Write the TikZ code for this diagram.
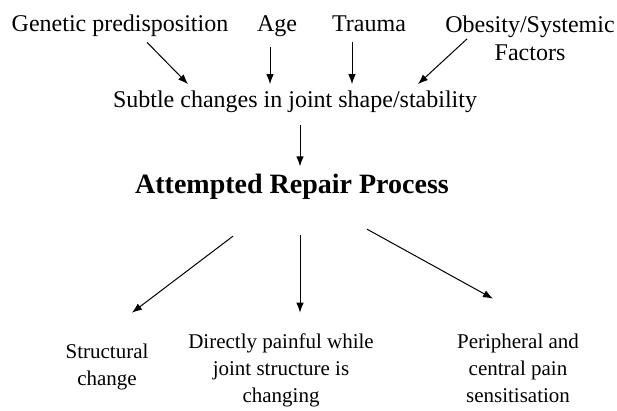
\documentclass[tikz,border=0pt]{standalone}
\usepackage{fontspec}
\setmainfont{Liberation Serif}
\usepackage{tikz}
\usetikzlibrary{arrows.meta,positioning,calc}
\tikzset{
  factor/.style  = {font=\fontsize{24}{28}\selectfont, inner sep=0pt, align=center},
  process/.style = {font=\bfseries\fontsize{28}{32}\selectfont, inner sep=0pt},
  outcome/.style = {font=\fontsize{21}{27}\selectfont, inner sep=0pt, align=center},
  arr/.style     = {-{Latex[length=10pt,width=7.5pt]}, line width=1pt}
}
\begin{document}
\begin{tikzpicture}[x=1pt,y=1pt]
\useasboundingbox (0,0) rectangle (617,410);
% causes
\node[factor, anchor=base] (genetic) at (120,378) {Genetic predisposition};
\node[factor, anchor=base] (age) at (277,378) {Age};
\node[factor, anchor=base] (trauma) at (369,378) {Trauma};
\node[factor, anchor=north] (obesity) at (530,394.4) {Obesity/Systemic\\Factors};
\node[factor, anchor=base] (subtle) at (295,302) {Subtle changes in joint shape/stability};
\node[process, anchor=base] (repair) at (292,217) {Attempted Repair Process};
% outcomes
\node[outcome, anchor=north] (structural) at (107,66.3) {Structural\\change};
\node[outcome, anchor=north] (painful) at (281,76.3) {Directly painful while\\joint structure is\\changing};
\node[outcome, anchor=north] (sensitisation) at (518,76.3) {Peripheral and\\central pain\\sensitisation};

\path[arr] ([xshift=27pt,yshift=-5pt]genetic.south) edge ([xshift=-107pt,yshift=7pt]subtle.north);
\path[arr] ([xshift=-7pt,yshift=-10pt]age.south) edge ([xshift=-25pt,yshift=7pt]subtle.north);
\path[arr] ([xshift=-17pt,yshift=-10pt]trauma.south) edge ([xshift=57pt,yshift=7pt]subtle.north);
\path[arr] ([xshift=-63pt,yshift=22pt]obesity.south) edge ([xshift=123pt,yshift=7pt]subtle.north);
\path[arr] ([xshift=5pt,yshift=-12pt]subtle.south) edge ([xshift=8pt,yshift=7pt]repair.north);
\path[arr] ([xshift=-59pt,yshift=-37pt]repair.south) edge ([xshift=25pt,yshift=31pt]structural.north);
\path[arr] ([xshift=8pt,yshift=-36pt]repair.south) edge ([xshift=19pt,yshift=21pt]painful.north);
\path[arr] ([xshift=75pt,yshift=-30pt]repair.south) edge ([xshift=-25pt,yshift=35pt]sensitisation.north);
\end{tikzpicture}
\end{document}
